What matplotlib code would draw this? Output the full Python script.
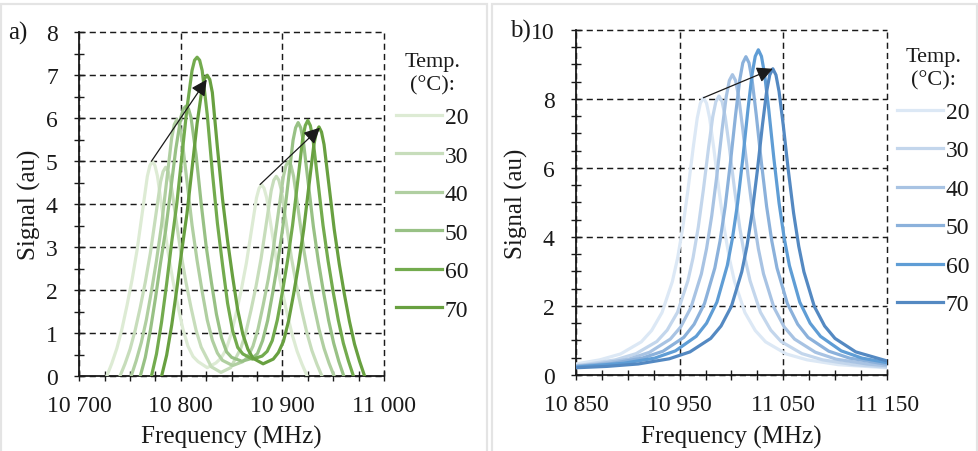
import matplotlib
matplotlib.use("Agg")
import matplotlib.pyplot as plt
from matplotlib.ticker import FixedLocator, MultipleLocator, FuncFormatter
from matplotlib.patches import Rectangle

plt.rcParams['font.family'] = ['Liberation Serif', 'DejaVu Serif']

# ---------------- data ----------------
temps = ["20", "30", "40", "50", "60", "70"]

# panel a) frequency (MHz) and signal (au)
a20_freq = [10727, 10732, 10737, 10742, 10747, 10752, 10757, 10762, 10767, 10769.5, 10772, 10774.5, 10777, 10782, 10787, 10792, 10797, 10802, 10807, 10812, 10817, 10826, 10834.5, 10839.5, 10844.5, 10849.5, 10854.5, 10859.5, 10864.5, 10869.5, 10874.5, 10877, 10879.5, 10882, 10884.5, 10889.5, 10894.5, 10899.5, 10904.5, 10909.5, 10914.5, 10919.5, 10924.5]
a20_sig = [0, 0.30, 0.65, 1.10, 1.65, 2.25, 2.95, 3.80, 4.65, 4.90, 5.00, 4.90, 4.65, 3.80, 2.95, 2.25, 1.65, 1.10, 0.70, 0.46, 0.34, 0.20, 0.31, 0.42, 0.62, 0.98, 1.47, 2.01, 2.63, 3.39, 4.15, 4.37, 4.46, 4.37, 4.15, 3.39, 2.63, 2.01, 1.47, 0.98, 0.58, 0.27, 0]

a30_freq = [10740, 10745, 10750, 10755, 10760, 10765, 10770, 10775, 10780, 10782.5, 10785, 10787.5, 10790, 10795, 10800, 10805, 10810, 10815, 10820, 10825, 10830, 10839.5, 10849, 10854, 10859, 10864, 10869, 10874, 10879, 10884, 10889, 10891.5, 10894, 10896.5, 10899, 10904, 10909, 10914, 10919, 10924, 10929, 10934, 10939]
a30_sig = [0, 0.29, 0.63, 1.07, 1.60, 2.19, 2.87, 3.69, 4.52, 4.76, 4.86, 4.76, 4.52, 3.69, 2.87, 2.19, 1.60, 1.07, 0.68, 0.45, 0.22, 0.09, 0.20, 0.42, 0.65, 1.02, 1.53, 2.09, 2.74, 3.53, 4.32, 4.56, 4.65, 4.56, 4.32, 3.53, 2.74, 2.09, 1.53, 1.02, 0.60, 0.28, 0]

a40_freq = [10751, 10756, 10761, 10766, 10771, 10776, 10781, 10786, 10791, 10793.5, 10796, 10798.5, 10801, 10806, 10811, 10816, 10821, 10826, 10831, 10836, 10841, 10851, 10861, 10866, 10871, 10876, 10881, 10886, 10891, 10896, 10901, 10903.5, 10906, 10908.5, 10911, 10916, 10921, 10926, 10931, 10936, 10941, 10946, 10951]
a40_sig = [0, 0.36, 0.78, 1.31, 1.97, 2.69, 3.52, 4.54, 5.55, 5.85, 5.97, 5.85, 5.55, 4.54, 3.52, 2.69, 1.97, 1.31, 0.84, 0.54, 0.37, 0.25, 0.34, 0.45, 0.70, 1.10, 1.65, 2.25, 2.95, 3.80, 4.65, 4.90, 5.00, 4.90, 4.65, 3.80, 2.95, 2.25, 1.65, 1.10, 0.65, 0.30, 0]

a50_freq = [10760, 10765, 10770, 10775, 10780, 10785, 10790, 10795, 10800, 10802.5, 10805, 10807.5, 10810, 10815, 10820, 10825, 10830, 10835, 10840, 10845, 10850, 10860, 10870.5, 10875.5, 10880.5, 10885.5, 10890.5, 10895.5, 10900.5, 10905.5, 10910.5, 10913, 10915.5, 10918, 10920.5, 10925.5, 10930.5, 10935.5, 10940.5, 10945.5, 10950.5, 10955.5, 10960.5]
a50_sig = [0, 0.44, 1.07, 1.82, 2.64, 3.39, 4.33, 5.28, 6.02, 6.22, 6.28, 6.22, 6.02, 5.15, 4.02, 3.01, 2.20, 1.45, 0.90, 0.57, 0.44, 0.35, 0.42, 0.53, 0.83, 1.30, 1.95, 2.66, 3.48, 4.48, 5.49, 5.78, 5.90, 5.78, 5.49, 4.48, 3.48, 2.66, 1.95, 1.30, 0.77, 0.35, 0]

a60_freq = [10771, 10776, 10781, 10786, 10791, 10796, 10801, 10806, 10811, 10813.5, 10816, 10818.5, 10821, 10826, 10831, 10836, 10841, 10846, 10851, 10856, 10861, 10870.5, 10880, 10885, 10890, 10895, 10900, 10905, 10910, 10915, 10920, 10922.5, 10925, 10927.5, 10930, 10935, 10940, 10945, 10950, 10955, 10960, 10965, 10970]
a60_sig = [0, 0.52, 1.26, 2.15, 3.12, 4.01, 5.12, 6.23, 7.11, 7.35, 7.42, 7.35, 7.11, 6.08, 4.75, 3.56, 2.60, 1.70, 1.06, 0.67, 0.52, 0.40, 0.47, 0.58, 0.83, 1.31, 1.96, 2.68, 3.51, 4.52, 5.53, 5.83, 5.95, 5.83, 5.53, 4.52, 3.51, 2.68, 1.96, 1.31, 0.77, 0.36, 0]

a70_freq = [10781, 10786, 10791, 10796, 10801, 10806, 10811, 10816, 10821, 10823.5, 10826, 10828.5, 10831, 10836, 10841, 10846, 10851, 10856, 10861, 10866, 10871, 10881, 10891, 10896, 10901, 10906, 10911, 10916, 10921, 10926, 10931, 10933.5, 10936, 10938.5, 10941, 10946, 10951, 10956, 10961, 10966, 10971, 10976, 10981]
a70_sig = [0, 0.49, 1.19, 2.03, 2.94, 3.78, 4.83, 5.88, 6.71, 6.93, 7.00, 6.90, 6.60, 5.32, 4.13, 3.15, 2.31, 1.54, 0.98, 0.63, 0.42, 0.29, 0.40, 0.55, 0.81, 1.28, 1.91, 2.61, 3.42, 4.41, 5.39, 5.68, 5.80, 5.68, 5.39, 4.41, 3.42, 2.61, 1.91, 1.28, 0.75, 0.35, 0]

# panel b)
b20_freq = [10850, 10873, 10893, 10913, 10923, 10933, 10943, 10948, 10953, 10958, 10963, 10967, 10970, 10973, 10976, 10979, 10983, 10988, 10993, 10998, 11003, 11013, 11023, 11033, 11053, 11073, 11103, 11150]
b20_sig = [0.32, 0.44, 0.61, 0.96, 1.29, 1.81, 2.71, 3.38, 4.26, 5.35, 6.56, 7.44, 7.87, 8.03, 7.87, 7.44, 6.56, 5.35, 4.26, 3.38, 2.71, 1.81, 1.29, 0.96, 0.61, 0.44, 0.30, 0.21]

b30_freq = [10850, 10858, 10888, 10908, 10928, 10938, 10948, 10958, 10963, 10968, 10973, 10978, 10982, 10985, 10988, 10991, 10994, 10998, 11003, 11008, 11013, 11018, 11028, 11038, 11048, 11068, 11088, 11118, 11150]
b30_sig = [0.28, 0.30, 0.44, 0.62, 0.97, 1.30, 1.82, 2.73, 3.40, 4.28, 5.38, 6.60, 7.48, 7.92, 8.08, 7.92, 7.48, 6.60, 5.38, 4.28, 3.40, 2.73, 1.82, 1.30, 0.97, 0.62, 0.44, 0.30, 0.23]

b40_freq = [10850, 10871, 10901, 10921, 10941, 10951, 10961, 10971, 10976, 10981, 10986, 10991, 10995, 10998, 11001, 11004, 11007, 11011, 11016, 11021, 11026, 11031, 11041, 11051, 11061, 11081, 11101, 11131, 11150]
b40_sig = [0.26, 0.32, 0.46, 0.66, 1.04, 1.39, 1.96, 2.93, 3.66, 4.61, 5.79, 7.11, 8.06, 8.53, 8.70, 8.53, 8.06, 7.11, 5.79, 4.61, 3.66, 2.93, 1.96, 1.39, 1.04, 0.66, 0.46, 0.32, 0.27]

b50_freq = [10850, 10884, 10914, 10934, 10954, 10964, 10974, 10984, 10989, 10994, 10999, 11004, 11008, 11011, 11014, 11017, 11020, 11024, 11029, 11034, 11039, 11044, 11054, 11064, 11074, 11094, 11114, 11150]
b50_sig = [0.25, 0.33, 0.49, 0.69, 1.09, 1.47, 2.07, 3.10, 3.88, 4.88, 6.14, 7.53, 8.54, 9.04, 9.22, 9.04, 8.54, 7.53, 6.14, 4.88, 3.88, 3.10, 2.07, 1.47, 1.09, 0.69, 0.49, 0.31]

b60_freq = [10850, 10896, 10926, 10946, 10966, 10976, 10986, 10996, 11001, 11006, 11011, 11016, 11020, 11023, 11026, 11029, 11032, 11036, 11041, 11046, 11051, 11056, 11066, 11076, 11086, 11106, 11126, 11150]
b60_sig = [0.23, 0.34, 0.49, 0.70, 1.12, 1.50, 2.11, 3.17, 3.96, 4.98, 6.27, 7.70, 8.72, 9.23, 9.42, 9.23, 8.72, 7.70, 6.27, 4.98, 3.96, 3.17, 2.11, 1.50, 1.12, 0.70, 0.49, 0.36]

b70_freq = [10850, 10880, 10910, 10940, 10960, 10980, 10990, 11000, 11010, 11015, 11020, 11025, 11030, 11034, 11037, 11040, 11043, 11046, 11050, 11055, 11060, 11065, 11070, 11080, 11090, 11100, 11120, 11150]
b70_sig = [0.21, 0.25, 0.32, 0.47, 0.67, 1.06, 1.42, 1.99, 2.99, 3.73, 4.70, 5.91, 7.25, 8.21, 8.69, 8.87, 8.69, 8.21, 7.25, 5.91, 4.70, 3.73, 2.99, 1.99, 1.42, 1.06, 0.67, 0.41]

# arrows (tail -> head), in data coordinates
a_arrow_tails = [(10771, 5.0), (10878, 4.46)]
a_arrow_heads = [(10825.5, 6.9), (10937, 5.78)]
b_arrow_tails = [(10973, 8.03)]
b_arrow_heads = [(11040, 8.87)]

# axes ranges / ticks
a_xlim = (10700, 11000)
a_ylim = (0, 8)
a_xticks = [10700, 10800, 10900, 11000]
a_yticks = [0, 1, 2, 3, 4, 5, 6, 7, 8]
b_xlim = (10850, 11150)
b_ylim = (0, 10)
b_xticks = [10850, 10950, 11050, 11150]
b_yticks = [0, 2, 4, 6, 8, 10]

# ---------------- styles ----------------
green_colors = ["#DDEBD4", "#C7DDBB", "#B0CFA1", "#98C185", "#73AB4E", "#68A040"]
blue_colors = ["#DCE8F5", "#C3D6EC", "#A8C3E3", "#8BB1DB", "#5F9DD5", "#5489C2"]
LW = 2.3
TICK_FS = 17
LABEL_FS = 18
INK = "#1a1a1a"

fig = plt.figure(figsize=(9.79, 4.52), dpi=100)
fig.patch.set_facecolor("white")

# panel frames
fig.patches.append(Rectangle((1.5 / 979, -0.02), 486 / 979, 1 - 5 / 452 + 0.02,
                             transform=fig.transFigure, fill=False,
                             edgecolor="#E4E4E4", lw=1.6))
fig.patches.append(Rectangle((492.5 / 979, -0.02), 485 / 979, 1 - 5 / 452 + 0.02,
                             transform=fig.transFigure, fill=False,
                             edgecolor="#E4E4E4", lw=1.6))

axa = fig.add_axes([0.0810, 0.1653, 0.3112, 0.7611])
axb = fig.add_axes([0.5884, 0.1681, 0.3174, 0.7639])

fmt = FuncFormatter(lambda v, p: f"{int(round(v)):,}".replace(",", " "))


def style(ax, xlim, ylim, xticks, yticks, yminor):
    ax.set_xlim(*xlim)
    ax.set_ylim(*ylim)
    ax.xaxis.set_major_locator(FixedLocator(xticks))
    ax.yaxis.set_major_locator(FixedLocator(yticks))
    ax.xaxis.set_minor_locator(MultipleLocator(25))
    ax.yaxis.set_minor_locator(MultipleLocator(yminor))
    ax.xaxis.set_major_formatter(fmt)
    ax.yaxis.set_major_formatter(FuncFormatter(lambda v, p: f"{int(round(v))}"))
    ax.tick_params(which="both", direction="inout", length=7, width=1.0,
                   color=INK, labelsize=TICK_FS, labelcolor=INK)
    ax.tick_params(axis="x", which="major", pad=10)
    ax.tick_params(axis="y", which="major", pad=12)
    for s in ("top", "right"):
        ax.spines[s].set_visible(False)
    for s in ("left", "bottom"):
        ax.spines[s].set_linewidth(1.3)
        ax.spines[s].set_color(INK)
    ax.set_axisbelow(True)
    ax.grid(which="major", color=INK, linestyle=(0, (4.2, 2.8)), linewidth=1.05)
    for gl in ax.get_xgridlines() + ax.get_ygridlines():
        gl.set_clip_on(False)
    ax.set_xlabel("Frequency (MHz)", fontsize=LABEL_FS, color=INK)
    ax.set_ylabel("Signal (au)", fontsize=LABEL_FS, color=INK)
    ax.xaxis.label.set_va("center")
    ax.yaxis.label.set_va("center")


style(axa, a_xlim, a_ylim, a_xticks, a_yticks, 0.5)
style(axb, b_xlim, b_ylim, b_xticks, b_yticks, 0.5)

a_freqs = [a20_freq, a30_freq, a40_freq, a50_freq, a60_freq, a70_freq]
a_sigs = [a20_sig, a30_sig, a40_sig, a50_sig, a60_sig, a70_sig]
b_freqs = [b20_freq, b30_freq, b40_freq, b50_freq, b60_freq, b70_freq]
b_sigs = [b20_sig, b30_sig, b40_sig, b50_sig, b60_sig, b70_sig]

for f, s, c, t in zip(a_freqs, a_sigs, green_colors, temps):
    axa.plot(f, s, color=c, lw=LW, label=t, solid_joinstyle="round", zorder=3)
for f, s, c, t in zip(b_freqs, b_sigs, blue_colors, temps):
    axb.plot(f, s, color=c, lw=LW, label=t, solid_joinstyle="round", zorder=3)

for ax, tails, heads in ((axa, a_arrow_tails, a_arrow_heads), (axb, b_arrow_tails, b_arrow_heads)):
    for t, h in zip(tails, heads):
        ax.annotate("", xy=h, xytext=t,
                    arrowprops=dict(arrowstyle="-|>", color=INK, lw=0.9,
                                    mutation_scale=24, shrinkA=0, shrinkB=0),
                    zorder=5)

axa.xaxis.set_label_coords(0.5, -0.174)
axa.yaxis.set_label_coords(-0.162, 0.5)
axb.xaxis.set_label_coords(0.5, -0.177)
axb.yaxis.set_label_coords(-0.193, 0.5)

for ax, anchor in ((axa, (1.039, 0.942)), (axb, (1.032, 0.950))):
    leg = ax.legend(title="Temp.\n(°C):", loc="upper left", bbox_to_anchor=anchor,
                    frameon=False, fontsize=17, title_fontsize=16,
                    handlelength=1.95, handletextpad=0.13, labelspacing=0.72,
                    borderaxespad=0, borderpad=0)
    title = leg.get_title()
    title.set_multialignment("center")
    title.set_linespacing(1.28)
    title.set_color(INK)
    for txt in leg.get_texts():
        txt.set_color(INK)
    try:
        leg._legend_box.sep = 8.5   # gap between title and entries (points)
    except Exception:
        pass

fig.text(8 / 979, 1 - 33 / 452, "a)", fontsize=18, ha="left", va="center", color=INK)
fig.text(510 / 979, 1 - 31.5 / 452, "b)", fontsize=18, ha="left", va="center", color=INK)

fig.savefig("out.png", dpi=100, facecolor="white")
